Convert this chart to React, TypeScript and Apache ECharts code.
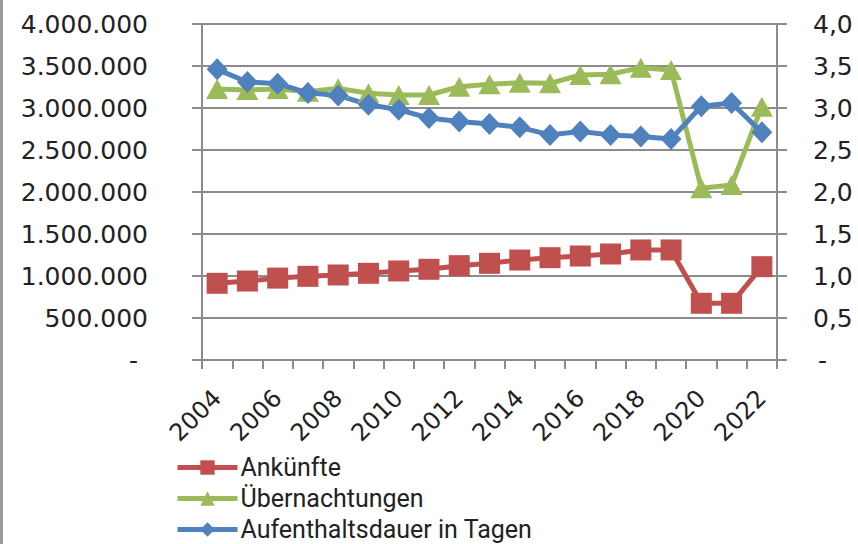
import React, { useEffect, useRef } from "react";
import * as echarts from "echarts";

const years = ["2004","2005","2006","2007","2008","2009","2010","2011","2012","2013","2014","2015","2016","2017","2018","2019","2020","2021","2022"];
const arrivals = [913000, 940000, 975000, 996000, 1012000, 1032000, 1060000, 1080000, 1123000, 1151000, 1190000, 1218000, 1238000, 1262000, 1310000, 1310000, 675000, 675000, 1111000];
const overnights = [3226000, 3214000, 3226000, 3194000, 3234000, 3175000, 3155000, 3155000, 3254000, 3282000, 3302000, 3294000, 3393000, 3401000, 3480000, 3452000, 2044000, 2083000, 3016000];
const stayDays = [3.46, 3.31, 3.29, 3.18, 3.15, 3.04, 2.98, 2.88, 2.84, 2.81, 2.77, 2.68, 2.72, 2.68, 2.66, 2.63, 3.02, 3.06, 2.71];
const seriesNames = ["Ankünfte", "Übernachtungen", "Aufenthaltsdauer in Tagen"];

const GRID = "#8c8c8c";
const AXIS_FONT = "DejaVu Sans";

function fmtLeft(v: number) {
  if (v === 0) return "-\u2009\u2009";
  return Math.round(v).toString().replace(/\B(?=(\d{3})+(?!\d))/g, ".");
}
function fmtRight(v: number) {
  if (v === 0) return "\u2009-";
  return v.toFixed(1).replace(".", ",");
}

export default function App() {
  const ref = useRef<HTMLDivElement>(null);
  useEffect(() => {
    if (!ref.current) return;
    const chart = echarts.init(ref.current, undefined, { renderer: "svg" });
    chart.setOption({
      animation: false,
      grid: { left: 202, right: 81, top: 24, bottom: 184, containLabel: false },
      legend: {
        orient: "vertical",
        left: 175,
        top: 455,
        itemWidth: 60,
        itemHeight: 18,
        itemGap: 6,
        padding: 0,
        lineStyle: { width: 5 },
        textStyle: { fontFamily: "Roboto", fontSize: 25, color: "#222", padding: [0, 0, 0, -2], lineHeight: 25 },
        data: seriesNames,
      },
      xAxis: {
        type: "category",
        data: years,
        boundaryGap: true,
        axisLine: { lineStyle: { color: GRID, width: 2 } },
        axisTick: { show: true, length: 9, inside: false, lineStyle: { color: GRID, width: 2 }, interval: 0 },
        axisLabel: { interval: 1, rotate: 45, margin: 34, fontFamily: AXIS_FONT, fontSize: 24, color: "#222" },
        splitLine: { show: false },
      },
      yAxis: [
        {
          type: "value",
          min: 0,
          max: 4000000,
          interval: 500000,
          axisLine: { show: true, lineStyle: { color: GRID, width: 2 } },
          axisTick: { show: true, length: 10, lineStyle: { color: GRID, width: 2 } },
          splitLine: { show: true, lineStyle: { color: GRID, width: 2 } },
          axisLabel: { margin: 54, fontFamily: AXIS_FONT, fontSize: 25, color: "#222", formatter: fmtLeft },
        },
        {
          type: "value",
          min: 0,
          max: 4,
          interval: 0.5,
          position: "right",
          axisLine: { show: true, lineStyle: { color: GRID, width: 2 } },
          axisTick: { show: true, length: 10, lineStyle: { color: GRID, width: 2 } },
          splitLine: { show: false },
          axisLabel: { margin: 36, fontFamily: AXIS_FONT, fontSize: 25, color: "#222", formatter: fmtRight },
        },
      ],
      series: [
        {
          name: seriesNames[0],
          type: "line",
          yAxisIndex: 0,
          data: arrivals,
          symbol: "rect",
          symbolSize: 21,
          showAllSymbol: true,
          itemStyle: { color: "#C0504D" },
          lineStyle: { color: "#C0504D", width: 5 },
        },
        {
          name: seriesNames[1],
          type: "line",
          yAxisIndex: 0,
          data: overnights,
          symbol: "triangle",
          symbolSize: [22, 20],
          showAllSymbol: true,
          itemStyle: { color: "#9BBB59" },
          lineStyle: { color: "#9BBB59", width: 5 },
        },
        {
          name: seriesNames[2],
          type: "line",
          yAxisIndex: 1,
          data: stayDays,
          symbol: "diamond",
          symbolSize: [21, 22],
          showAllSymbol: true,
          itemStyle: { color: "#4F81BD" },
          lineStyle: { color: "#4F81BD", width: 5 },
        },
      ],
    });
    return () => chart.dispose();
  }, []);
  return (
    <div style={{ position: "fixed", left: 0, top: 0, width: 858, height: 544, background: "#fff" }}>
      <div ref={ref} style={{ position: "absolute", left: 0, top: 0, width: 858, height: 544 }} />
      <div style={{ position: "absolute", left: 0, top: 0, width: 3, height: 544, background: "#9a9a9a" }} />
    </div>
  );
}
